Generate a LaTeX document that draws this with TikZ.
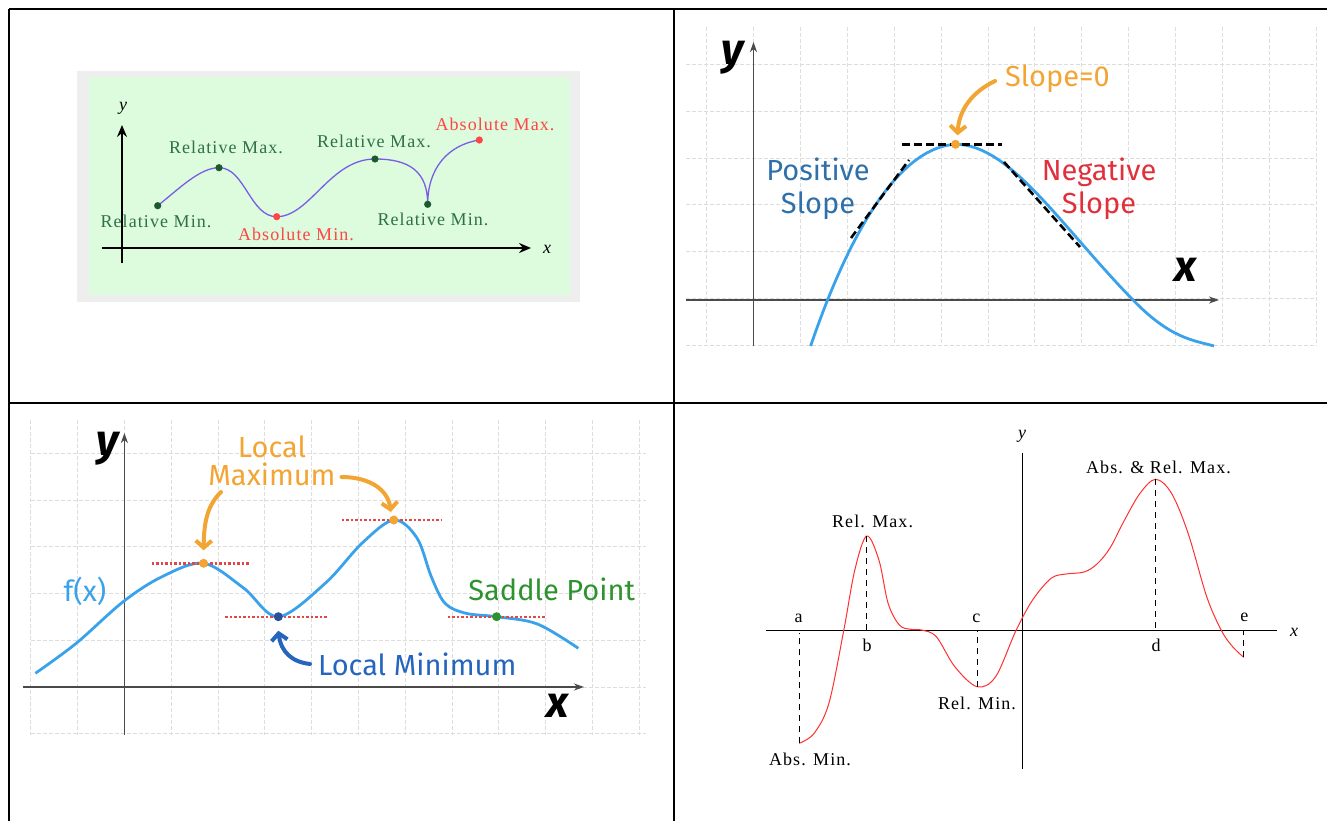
\documentclass[tikz,border=0pt]{standalone}
\usepackage{fontspec}
\setmainfont{Liberation Serif}
\newfontfamily\serifsp[LetterSpace=6]{Liberation Serif}
\newfontfamily\handfont{Fira Sans}
\usetikzlibrary{arrows.meta, positioning, calc}

\definecolor{FrameGray}{HTML}{EEEEEE}
\definecolor{MintGreen}{HTML}{DDFBDD}
\definecolor{CurvePurple}{HTML}{7A5CE8}
\definecolor{LblGreen}{HTML}{2F7048}
\definecolor{DotGreen}{HTML}{1C5A2C}
\definecolor{LblRed}{HTML}{FF4545}
\definecolor{GridGray}{HTML}{DDDDDD}
\definecolor{AxisGray}{HTML}{4A4A4A}
\definecolor{CurveBlue}{HTML}{3AA2EA}
\definecolor{SlopeBlue}{HTML}{2F6FAA}
\definecolor{SlopeRed}{HTML}{E0303C}
\definecolor{MarkOrange}{HTML}{F2A533}
\definecolor{MinBlue}{HTML}{2565BD}
\definecolor{MinDot}{HTML}{2C4E9A}
\definecolor{SaddleGreen}{HTML}{2E932E}
\definecolor{DotRed}{HTML}{E04848}
\definecolor{PlotRed}{HTML}{FF3030}

\begin{document}
\begin{tikzpicture}[
  x=1pt, y=-1pt,
  every node/.style={inner sep=0pt, outer sep=0pt},
  tablerule/.style={line width=2pt, black},
  gridline/.style={draw=GridGray, dash pattern=on 4pt off 2pt, line width=0.9pt},
  serifaxis/.style={-{Stealth[length=12pt, width=10pt, inset=4pt]}, line width=1.3pt, black},
  handaxis/.style={-{Stealth[length=10pt, width=7pt, inset=3pt]}, line width=1.2pt, AxisGray},
  seriflbl/.style={font=\serifsp\fontsize{18}{18}\selectfont},
  handlbl/.style={font=\handfont\fontsize{29}{29}\selectfont},
  bigvar/.style={font=\handfont\bfseries\itshape\fontsize{44}{44}\selectfont},
  tanline/.style={black, line width=2.6pt, dash pattern=on 8pt off 4pt},
  flatline/.style={draw=DotRed, line width=2.4pt, dash pattern=on 2.5pt off 2pt},
  pointer/.style={line width=4pt, line cap=round, -{Straight Barb[length=7pt, width=16pt]}},
  dropline/.style={black, line width=0.9pt, dash pattern=on 6pt off 5pt},
]
\useasboundingbox (0,0) rectangle (1327,821);
\clip (0,0) rectangle (1327,821);

% --- Table rules ---
\draw[tablerule] (9,9) -- (1340,9);
\draw[tablerule] (9,9) -- (9,830);
\draw[tablerule] (9,403) -- (1340,403);
\draw[tablerule] (674,9) -- (674,830);

% --- Panel 1: relative and absolute extrema ---
\fill[FrameGray] (77,71) rectangle (580,302);
\fill[MintGreen] (89,77) rectangle (570,295);
\draw[serifaxis] (122,263) -- (122,125);
\draw[serifaxis] (102,248) -- (531,248);
\node[font=\serifsp\itshape\fontsize{18}{18}\selectfont] (p1y) at (123,108) {y};
\node[font=\serifsp\itshape\fontsize{18}{18}\selectfont] (p1x) at (547,249) {x};

\coordinate (rmin1) at (157.7,205.7);
\coordinate (rmax1) at (219,167.7);
\coordinate (amin) at (276.7,216.7);
\coordinate (rmax2) at (375,159);
\coordinate (rmin2) at (427.7,204.3);
\coordinate (amax) at (479.3,140);
\draw[CurvePurple, line width=1.3pt] (rmin1) .. controls (180,188) and (200,167.7) .. (rmax1)
  .. controls (245,167.7) and (250,216.7) .. (amin)
  .. controls (310,216.7) and (330,159) .. (rmax2)
  .. controls (410,159) and (427.7,172) .. (rmin2)
  .. controls (427.7,168) and (448,145) .. (amax);
\foreach \pt in {rmin1, rmax1, rmax2, rmin2}
  \fill[DotGreen] (\pt) circle[radius=3.6pt];
\foreach \pt in {amin, amax}
  \fill[LblRed] (\pt) circle[radius=3.6pt];

\node[seriflbl, text=LblGreen] (rminlblA) at (156,221) {Relative Min.};
\node[seriflbl, text=LblGreen] (rmaxlblA) at (226,147) {Relative Max.};
\node[seriflbl, text=LblGreen] (rmaxlblB) at (374,141) {Relative Max.};
\node[seriflbl, text=LblGreen] (rminlblB) at (433,219) {Relative Min.};
\node[seriflbl, text=LblRed] (aminlbl) at (296,234) {Absolute Min.};
\node[seriflbl, text=LblRed] (amaxlbl) at (495,124) {Absolute Max.};

% --- Panel 2: slope at a maximum ---
\foreach \gx in {-1,...,12}
  \draw[gridline] ({753.5+46.9*\gx},27) -- ({753.5+46.9*\gx},346);
\foreach \gy in {-1,...,5}
  \draw[gridline] (686,{298.3-46.7*\gy}) -- (1317,{298.3-46.7*\gy});
\draw[handaxis] (686,300) -- (1219,300);
\draw[handaxis] (753.5,346) -- (753.5,42);
\node[bigvar] (p2y) at (733,58) {y};
\node[bigvar] (p2x) at (1186,270) {x};

\coordinate (hilltop) at (955.5,144.3);
\draw[CurveBlue, line width=2.8pt] (810.6,346) .. controls (840,260) and (890,148) .. (hilltop)
  .. controls (1010,144.3) and (1060,225) .. (1133,300)
  .. controls (1170,338) and (1192,340) .. (1214,346);
\draw[tanline] (851,238) -- (909,160);
\draw[tanline] (1004,162) -- (1080,247);
\draw[tanline] (902,144.3) -- (1002,144.3);
\fill[MarkOrange] (hilltop) circle[radius=4.5pt];

\node[handlbl, text=MarkOrange, anchor=west] (slopezero) at (1005,79) {Slope=0};
\draw[pointer, MarkOrange] ([xshift=-10pt, yshift=-2pt]slopezero.west)
  .. controls (972,92) and (959,110) .. ($(hilltop)+(2,-9)$);
\node[handlbl, text=SlopeBlue, align=center, font=\handfont\fontsize{29}{33}\selectfont] (poslbl) at (818,189) {Positive\\Slope};
\node[handlbl, text=SlopeRed, align=center, font=\handfont\fontsize{29}{33}\selectfont] (neglbl) at (1099,189) {Negative\\Slope};

% --- Panel 3: local extrema and saddle point ---
\foreach \gx in {-2,...,11}
  \draw[gridline] ({124.4+46.8*\gx},420) -- ({124.4+46.8*\gx},735);
\foreach \gy in {-1,...,5}
  \draw[gridline] (31,{687-46.7*\gy}) -- (646,{687-46.7*\gy});
\draw[handaxis] (23,687) -- (584,687);
\draw[handaxis] (124.4,735) -- (124.4,433);
\node[bigvar] (p3y) at (108,449) {y};
\node[bigvar] (p3x) at (558,706) {x};

\coordinate (maxA) at (203.6,563.3);
\coordinate (minA) at (278.3,616.7);
\coordinate (maxB) at (393.8,520);
\coordinate (saddle) at (496.6,616.7);
\draw[CurveBlue, line width=2.8pt] plot[smooth, tension=0.55] coordinates {
  (35.4,673.3) (76.2,643.3) (123.2,601.7) (162,576.7) (203.6,563.3)
  (243.6,588) (278.3,616.7) (325.2,583.3) (361.9,543.3) (393.8,520)
  (417,538) (431.3,576.7) (445,603.3) (466,613.3) (496.6,616.7)
  (537.4,624) (578.3,648.3)};
\draw[flatline] (151.7,563.3) -- (249.7,563.3);
\draw[flatline] (225,616.7) -- (327,616.7);
\draw[flatline] (341.5,520) -- (441.5,520);
\draw[flatline] (447.7,616.7) -- (545.6,616.7);
\fill[MarkOrange] (maxA) circle[radius=4.5pt];
\fill[MarkOrange] (maxB) circle[radius=4.5pt];
\fill[MinDot] (minA) circle[radius=4.5pt];
\fill[SaddleGreen] (saddle) circle[radius=4.5pt];

\node[handlbl, text=MarkOrange, align=center, font=\handfont\fontsize{29}{28}\selectfont] (locmaxlbl) at (272,461) {Local\\Maximum};
\coordinate (tailA) at (221,492);
\coordinate (tailB) at (341.5,477);
\draw[pointer, MarkOrange] (tailA) .. controls (208,505) and (204,520) .. ($(maxA)+(0,-13)$);
\draw[pointer, MarkOrange] (tailB) .. controls (370,477) and (388,490) .. ($(maxB)+(-3,-8)$);
\node[handlbl, text=MinBlue, anchor=west] (locminlbl) at (318,664) {Local Minimum};
\draw[pointer, MinBlue] ([xshift=-8pt]locminlbl.west) .. controls (292,662) and (281,652) .. ($(minA)+(0,14)$);
\node[handlbl, text=SaddleGreen] (saddlelbl) at (551.7,589) {Saddle Point};
\node[handlbl, text=CurveBlue] (fxlbl) at (85,591) {f(x)};

% --- Panel 4: extrema on a closed interval ---
\draw[black, line width=1pt] (766,630.7) -- (1277,630.7);
\draw[black, line width=1pt] (1022.2,453) -- (1022.2,768.5);
\node[font=\serifsp\itshape\fontsize{18}{18}\selectfont] (p4y) at (1022,436) {y};
\node[font=\serifsp\itshape\fontsize{18}{18}\selectfont] (p4x) at (1294,632) {x};

\coordinate (ptA) at (799.3,743.3);
\coordinate (ptB) at (866.7,536);
\coordinate (ptC) at (977,686.7);
\coordinate (ptD) at (1155.6,479.3);
\coordinate (ptE) at (1243.7,657.3);
\draw[PlotRed, line width=1pt] plot[smooth, tension=0.55] coordinates {
  (799.3,743.3) (814.1,733.3) (828.9,703.3) (843.7,630.7) (854.8,570)
  (866.7,536) (878.9,560) (888.1,603.3) (899.3,625) (910.4,629.3) (921.5,630)
  (936.3,636.7) (954.8,666.7) (977,686.7) (995.6,676.7) (1015.9,630.7)
  (1032.6,600) (1051.1,578.3) (1066,574) (1084,572) (1097,564)
  (1110,548) (1124,521) (1140,493.3) (1155.6,479.3) (1171.5,493.3) (1188.1,533.3)
  (1206.7,596.7) (1221.5,630.7) (1232.6,646.7) (1243.7,657.3)};
\draw[dropline] (ptA) -- (799.3,633);
\draw[dropline] (ptB) -- (866.7,630.7);
\draw[dropline] (ptC) -- (977,630.7);
\draw[dropline] (ptD) -- (1155.6,630.7);
\draw[dropline] (ptE) -- (1243.7,630.7);

\node[seriflbl] (lbla) at (798.5,618) {a};
\node[seriflbl] (lblb) at (867,645) {b};
\node[seriflbl] (lblc) at (976.3,618) {c};
\node[seriflbl] (lbld) at (1156,645) {d};
\node[seriflbl] (lble) at (1244.4,617) {e};
\node[seriflbl] (relmaxlbl) at (872.6,521) {Rel. Max.};
\node[seriflbl] (relminlbl) at (977,703) {Rel. Min.};
\node[seriflbl] (absminlbl) at (810,759) {Abs. Min.};
\node[seriflbl] (absmaxlbl) at (1158.5,467) {Abs. \& Rel. Max.};

\end{tikzpicture}
\end{document}
